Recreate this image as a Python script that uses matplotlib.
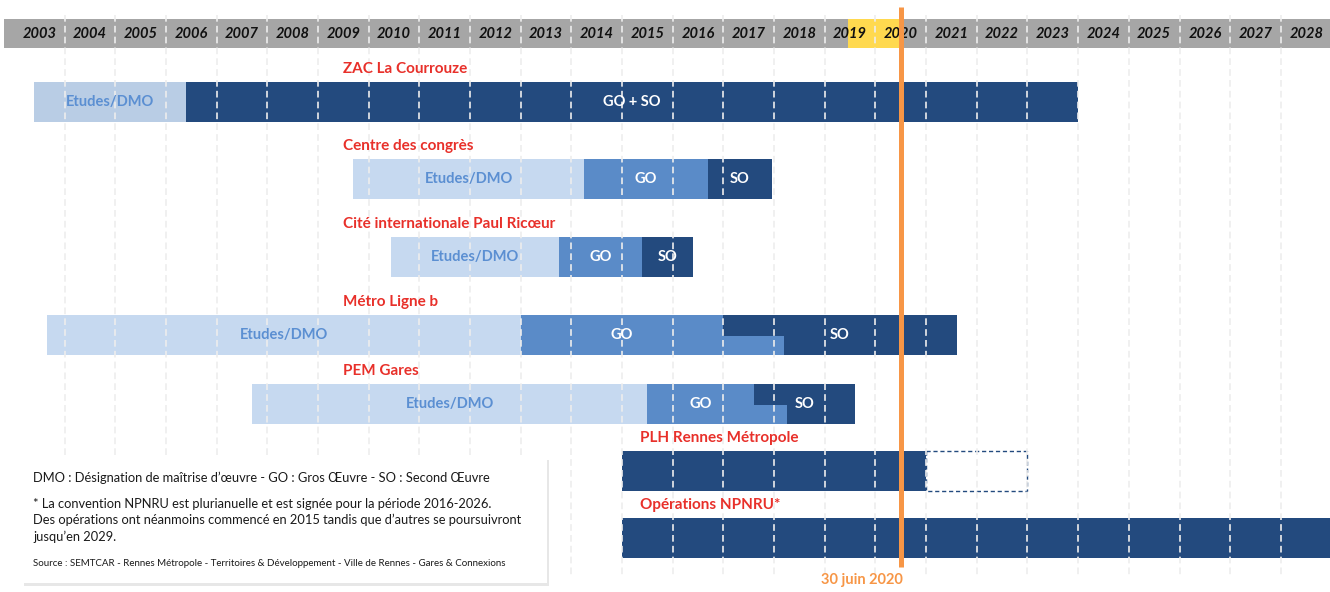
import numpy as np
import matplotlib.pyplot as plt
import matplotlib.patches as mpatches
import matplotlib.patheffects as pe

plt.rcParams['font.family'] = ['Lato', 'DejaVu Sans']

# ---- donnees ----
projects = ["ZAC La Courrouze", "Centre des congrès", "Cité internationale Paul Ricœur",
            "Métro Ligne b", "PEM Gares", "PLH Rennes Métropole", "Opérations NPNRU*"]
dmo = [(2003.4, 2006.4), (2009.7, 2014.25), (2010.45, 2013.75),
       (2003.65, 2013.0), (2007.7, 2015.5), None, None]
go = [None, (2014.25, 2016.7), (2013.75, 2015.4),
      (2013.0, 2018.2), (2015.5, 2018.25), None, None]
so = [(2006.4, 2024.0), (2016.7, 2017.95), (2015.4, 2016.4),
      (2017.0, 2021.6), (2017.6, 2019.6), (2015.0, 2021.0), (2015.0, 2030.0)]
so_labels = ["GO + SO", "SO", "SO", "SO", "SO", "", ""]
planned = [None, None, None, None, None, (2021.0, 2023.0), None]
years = list(range(2003, 2030))
highlight = (2019.45, 2020.5)
today = 2020.5
today_label = "30 juin 2020"

legend_lines = [
    "DMO : Désignation de maîtrise d’œuvre - GO : Gros Œuvre - SO : Second Œuvre",
    "* La convention NPNRU est plurianuelle et est signée pour la période 2016-2026.",
    "Des opérations ont néanmoins commencé en 2015 tandis que d’autres se poursuivront",
    "jusqu’en 2029.",
]
source = ("Source : SEMTCAR - Rennes Métropole - Territoires & Développement - "
          "Ville de Rennes - Gares & Connexions")

# ---- mise en page ----
row_y = [102, 179, 257, 335, 404, 471, 538]
title_x = [2009.5] * 5 + [2015.35] * 2
bar_h = 40

c_light = "#c6d9f0"
c_light_zac = "#b9cde5"
c_mid = "#5a8bc8"
c_dark = "#234a7e"
c_red = "#e8302a"
c_orange = "#f79646"
c_txt = "#5b8fd2"

fig = plt.figure(figsize=(13.3, 5.92), dpi=100)
ax = fig.add_axes([0, 0, 1, 1])
ax.set_xlim(2002.726, 2028.969)
ax.set_ylim(592, 0)
ax.axis("off")

# bandeau des annees
ax.add_patch(mpatches.Rectangle((2002.8, 19), 40, 29, color="#a6a6a6", lw=0, zorder=1))
ax.add_patch(mpatches.Rectangle((highlight[0], 19), highlight[1] - highlight[0], 29,
                                color="#ffd94f", lw=0, zorder=1.5))
for yr in years:
    ax.text(yr + 0.5, 34, str(yr), ha="center", va="center", fontsize=10.5,
            fontweight="bold", style="italic", color="#111111", zorder=3)


def seg(x0, x1, yc, color, top=0.0, bot=1.0):
    ax.add_patch(mpatches.Rectangle((x0, yc - bar_h / 2 + top * bar_h), x1 - x0,
                                    (bot - top) * bar_h, color=color, lw=0, zorder=2))


for i, name in enumerate(projects):
    yc = row_y[i]
    ax.text(title_x[i], yc - bar_h / 2 - 13, name, ha="left", va="center",
            fontsize=11, fontweight="bold", color=c_red, zorder=3)
    if dmo[i]:
        a, b = dmo[i]
        seg(a, b, yc, c_light_zac if i == 0 else c_light)
        ax.text((a + b) / 2, yc, "Etudes/DMO", ha="center", va="center",
                fontsize=10.5, fontweight="bold", color=c_txt, zorder=3)
    s0, s1 = so[i]
    if go[i]:
        g0, g1 = go[i]
        if g1 > s0:
            # chevauchement GO / SO
            seg(g0, s0, yc, c_mid)
            seg(s0, g1, yc, c_dark, 0, 0.53)
            seg(s0, g1, yc, c_mid, 0.53, 1)
            seg(g1, s1, yc, c_dark)
            gx = (g0 + s0) / 2
        else:
            seg(g0, g1, yc, c_mid)
            seg(s0, s1, yc, c_dark)
            gx = (g0 + g1) / 2
        ax.text(gx, yc, "GO", ha="center", va="center", fontsize=10.5,
                fontweight="bold", color="white", zorder=3)
    else:
        seg(s0, s1, yc, c_dark)
    if so_labels[i]:
        ax.text((s0 + s1) / 2, yc, so_labels[i], ha="center", va="center",
                fontsize=10.5, fontweight="bold", color="white", zorder=3)
    if planned[i]:
        p0, p1 = planned[i]
        ax.add_patch(mpatches.Rectangle((p0, yc - bar_h / 2), p1 - p0, bar_h,
                                        fill=False, ec=c_dark, lw=1, ls=(0, (3, 2)),
                                        zorder=2))

# grille annuelle en pointilles
for yr in years[1:]:
    ax.plot([yr, yr], [15, 575], color="#ededed", lw=1.2, ls=(0, (4, 2.5)), zorder=2.5)

# date du jour
ax.plot([today, today], [7, 567], color=c_orange, lw=3.6, zorder=5, solid_capstyle="butt")
ax.text(today + 0.05, 580, today_label, ha="right", va="center", fontsize=10.5,
        fontweight="bold", color=c_orange, zorder=5)

# encadre legende
box = mpatches.Rectangle((22 / 1330, 1 - 583 / 592), 525 / 1330, 126 / 592,
                         transform=fig.transFigure, fc="white", ec="none", zorder=6,
                         path_effects=[pe.SimplePatchShadow(offset=(1.5, -2.5),
                                                            shadow_rgbFace="#bbbbbb",
                                                            alpha=0.35), pe.Normal()])
fig.patches.append(box)
for txt, yp in zip(legend_lines, [478, 504, 520, 537]):
    fig.text(33 / 1330, 1 - yp / 592, txt, ha="left", va="center", fontsize=9.3,
             color="#1a1a1a", zorder=7)
fig.text(33 / 1330, 1 - 564 / 592, source, ha="left", va="center", fontsize=7,
         color="#1a1a1a", zorder=7)

fig.savefig("out.png", dpi=100)
